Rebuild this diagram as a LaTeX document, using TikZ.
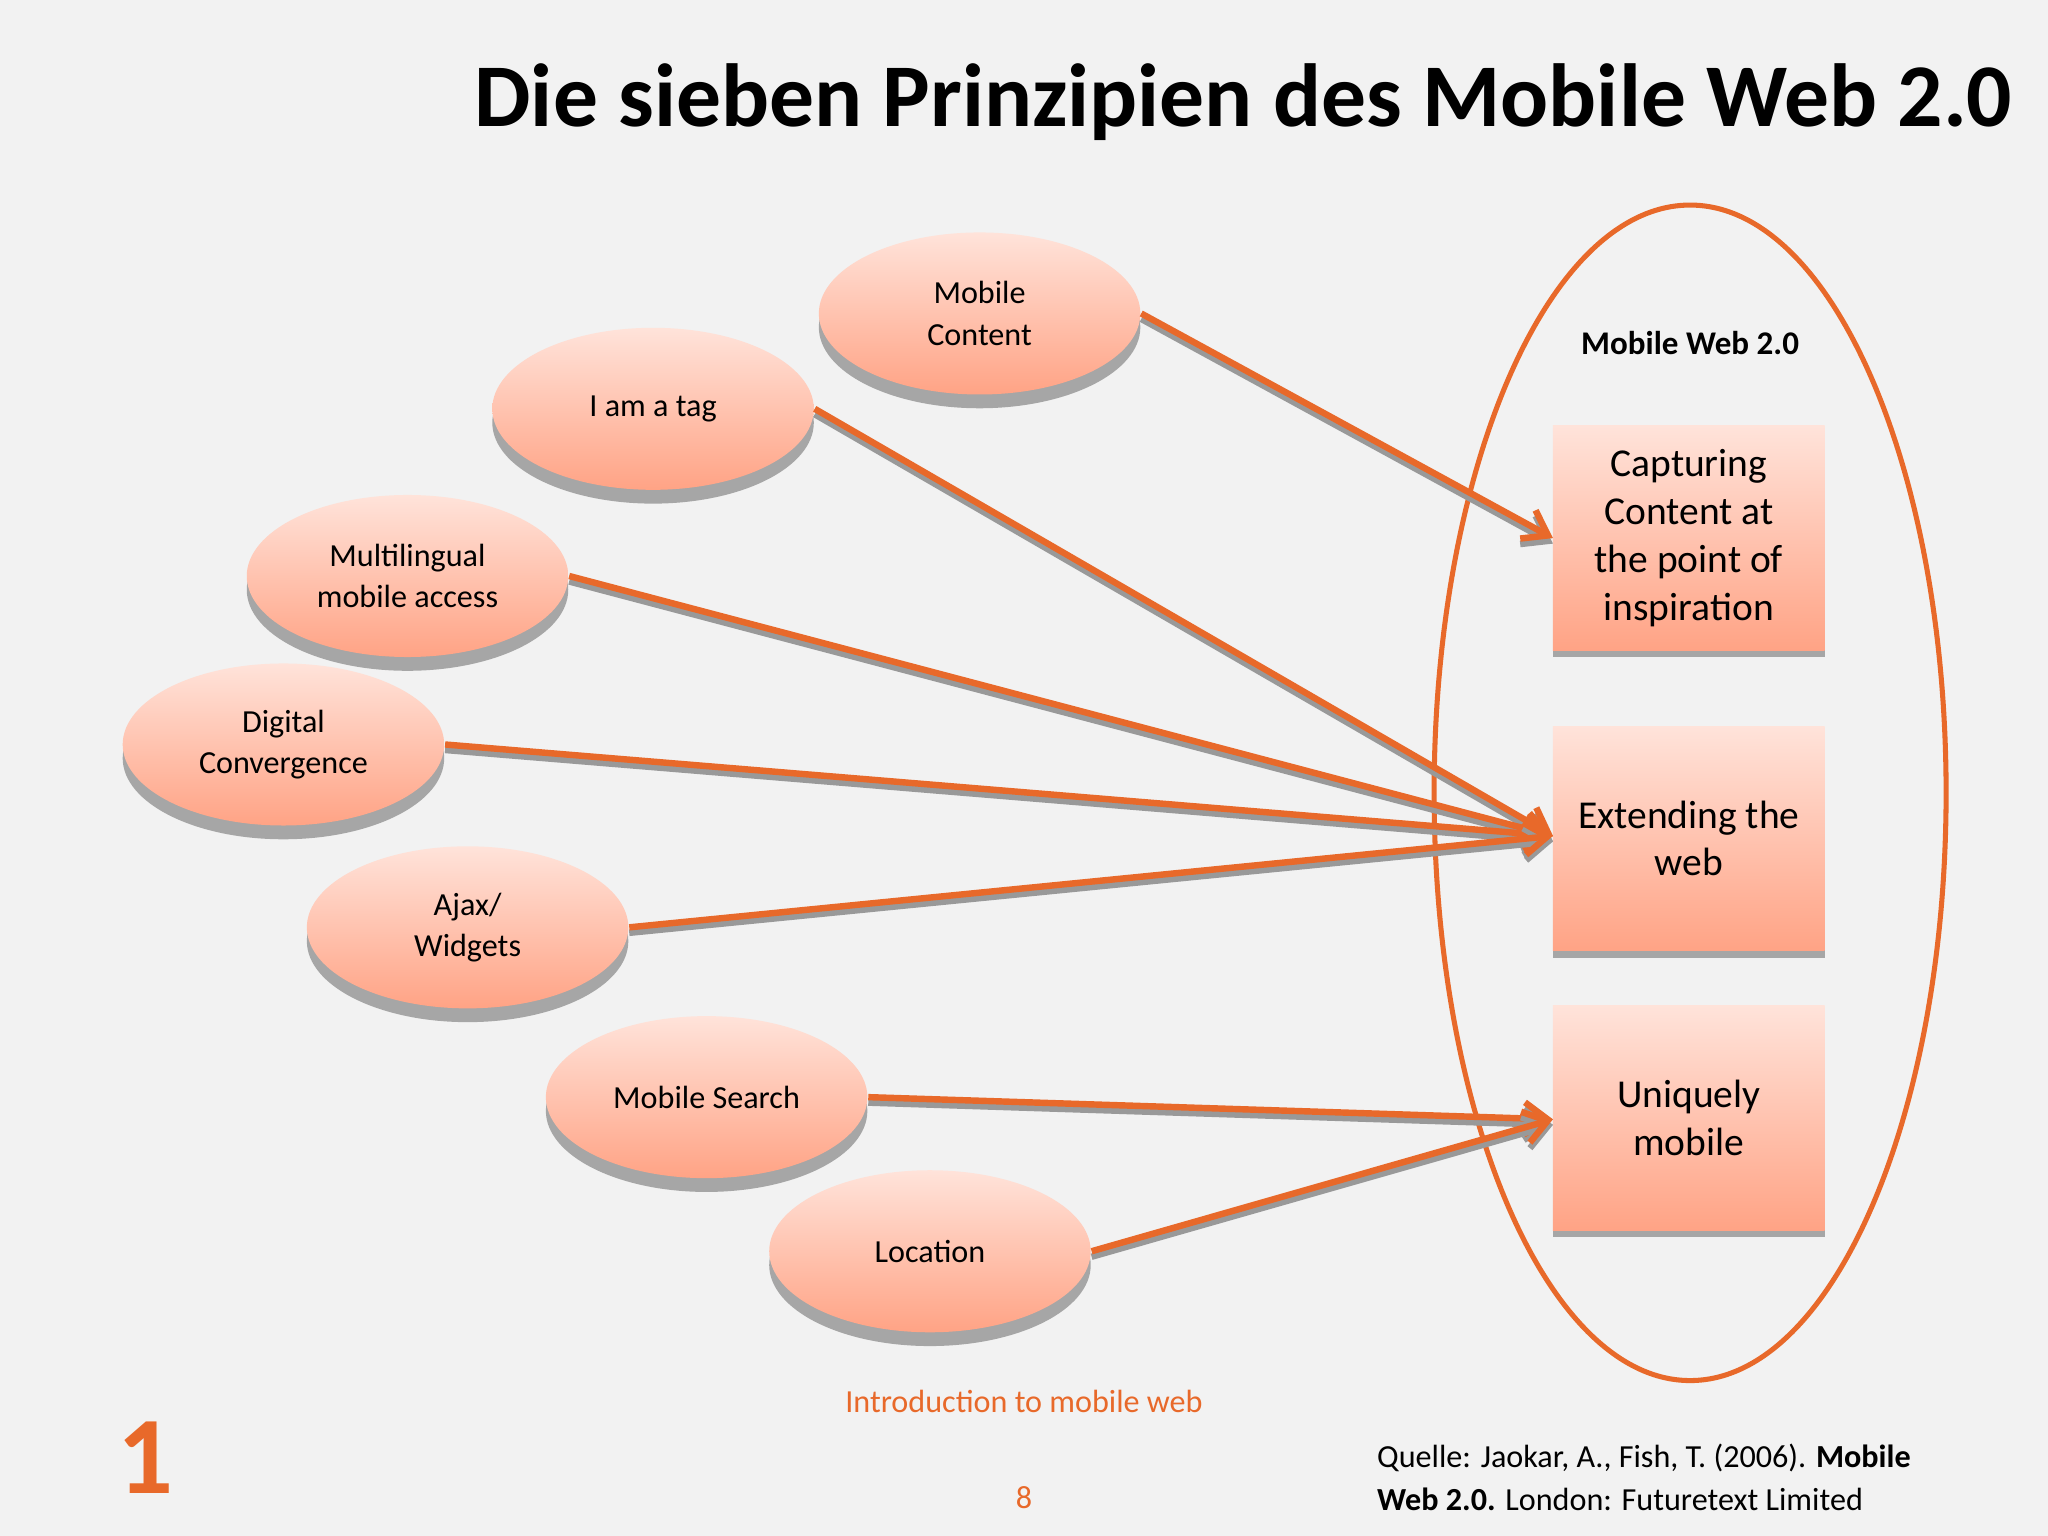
\documentclass[tikz,border=0pt]{standalone}
\usepackage{fontspec}
\setmainfont{Carlito}
\usetikzlibrary{arrows.meta,shadows}
\definecolor{org}{HTML}{E8692A}
\definecolor{ltop}{HTML}{FFE3DA}
\definecolor{lbot}{HTML}{FFA385}
\begin{document}
\begin{tikzpicture}[x=0.01cm,y=-0.01cm,
  oval/.style={ellipse,minimum width=246\pgflinewidth,draw=none,top color=ltop,bottom color=lbot,
    drop shadow={shadow xshift=0pt,shadow yshift=-3pt,fill=gray!70,opacity=1},font=\fontsize{7}{9}\selectfont,align=center},
  pbox/.style={rectangle,draw=none,top color=ltop,bottom color=lbot,minimum width=2.08cm,minimum height=1.72cm,
    drop shadow={shadow xshift=0pt,shadow yshift=-1.5pt,fill=gray!70,opacity=1},font=\fontsize{8.6}{10.4}\selectfont,align=center},
  arr/.style={draw=org,line width=1.4pt,-{Straight Barb[length=5pt,width=7pt]},
    preaction={draw=gray!80,line width=1.4pt,transform canvas={yshift=-1.2pt},-{Straight Barb[length=5pt,width=7pt]}}}]
\usetikzlibrary{shapes.geometric}
\fill[white!95!black] (0,0) rectangle (1568,1176);
\useasboundingbox (0,0) rectangle (1568,1176);
\node[font=\bfseries\fontsize{19.5}{22}\selectfont] (title) at (952,78) {Die sieben Prinzipien des Mobile Web 2.0};
\draw[org,line width=1.1pt] (1294,607) ellipse [x radius=196,y radius=450];
\node[font=\bfseries\fontsize{7.2}{9}\selectfont] (mw) at (1294,263) {Mobile Web 2.0};
\node[pbox] (b1) at (1293,412) {Capturing\\Content at\\the point of\\inspiration};
\node[pbox] (b2) at (1293,642) {Extending the\\web};
\node[pbox] (b3) at (1293,856) {Uniquely\\mobile};
\foreach \n/\x/\y/\t in {mc/750/240/{Mobile\\Content},tag/500/313/{I am a tag},ml/312/441/{Multilingual\\mobile access},dc/217/570/{Digital\\Convergence},aj/358/710/{Ajax/\\Widgets},ms/541/840/{Mobile Search},lo/712/958/{Location}}
  \node[oval,minimum width=2.46cm,minimum height=1.24cm,inner sep=0pt] (\n) at (\x,\y) {\t};
\coordinate (t1) at (1189,412);
\coordinate (t2) at (1189,640);
\coordinate (t3) at (1189,857);
\draw[arr] (mc.east) -- (t1);
\draw[arr] (tag.east) -- (t2);
\draw[arr] (ml.east) -- (t2);
\draw[arr] (dc.east) -- (t2);
\draw[arr] (aj.east) -- (t2);
\draw[arr] (ms.east) -- (t3);
\draw[arr] (lo.east) -- (t3);
\node[org,font=\fontsize{7}{9}\selectfont] (intro) at (784,1073) {Introduction to mobile web};
\node[org,font=\fontsize{7}{9}\selectfont] (pg) at (784,1147) {8};
\node[org,font=\bfseries\fontsize{24}{26}\selectfont] (one) at (111,1116) {1};
\node[anchor=north west,align=left,font=\fontsize{7}{9.3}\selectfont] (q) at (1042,1093) {Quelle: Jaokar, A., Fish, T. (2006). \textbf{Mobile}\\\textbf{Web 2.0.} London: Futuretext Limited};
\end{tikzpicture}
\end{document}
